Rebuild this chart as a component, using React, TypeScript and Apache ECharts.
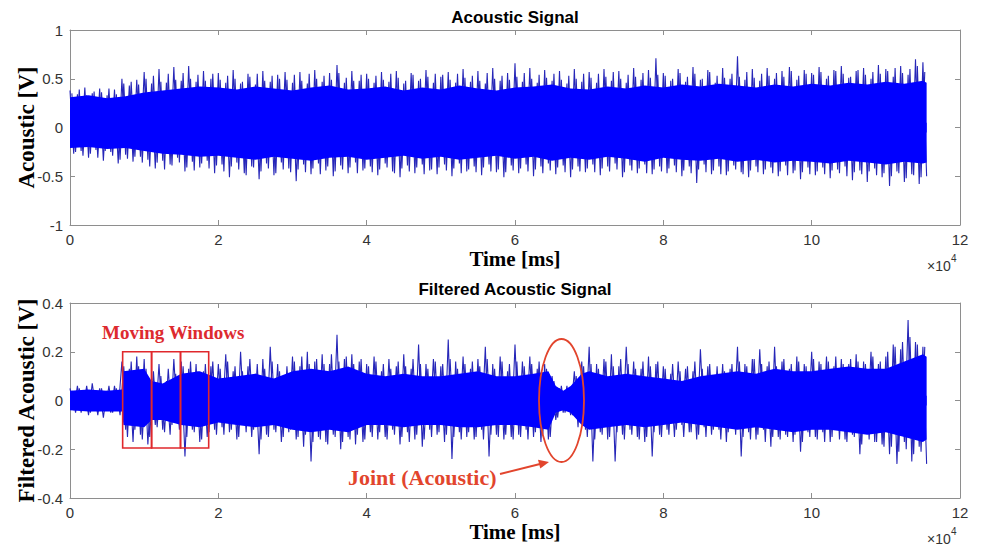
import { useEffect, useRef } from "react";
import * as echarts from "echarts";

const SERIF = '"Liberation Serif", "Times New Roman", serif';
const SANS = '"Liberation Sans", Arial, sans-serif';

// sampling step of the drawn peak traces, in units of 1e4 ms
const SAMPLE_STEP = 0.05;
// the minor peak traces sit half a step later
const MINOR_OFFSET = 0.025;

// Raw acoustic signal: alternating positive / negative peaks, 0 .. 11.55 (x1e4 ms)
const topSignal = [
  0.38,-0.27,0.34,-0.24,0.41,-0.31,0.35,-0.23,0.40,-0.34,0.33,-0.25,0.39,-0.37,0.50,-0.28,0.43,-0.35,0.49,-0.30,
  0.57,-0.33,0.45,-0.42,0.60,-0.34,0.46,-0.38,0.62,-0.31,0.48,-0.45,0.63,-0.35,0.47,-0.41,0.58,-0.34,0.50,-0.47,
  0.56,-0.38,0.46,-0.51,0.59,-0.36,0.45,-0.47,0.55,-0.40,0.44,-0.53,0.58,-0.37,0.47,-0.49,0.54,-0.36,0.57,-0.42,
  0.46,-0.55,0.57,-0.38,0.45,-0.48,0.59,-0.37,0.47,-0.44,0.56,-0.50,0.64,-0.39,0.46,-0.47,0.58,-0.36,0.48,-0.44,
  0.55,-0.40,0.46,-0.49,0.57,-0.37,0.47,-0.45,0.58,-0.51,0.45,-0.39,0.56,-0.47,0.48,-0.38,0.59,-0.44,0.46,-0.48,
  0.52,-0.38,0.57,-0.50,0.46,-0.37,0.60,-0.45,0.47,-0.40,0.58,-0.49,0.45,-0.38,0.61,-0.46,0.48,-0.51,0.56,-0.39,
  0.66,-0.47,0.47,-0.38,0.61,-0.50,0.46,-0.40,0.59,-0.37,0.48,-0.48,0.58,-0.39,0.45,-0.51,0.60,-0.40,0.47,-0.46,
  0.57,-0.38,0.46,-0.49,0.60,-0.40,0.48,-0.37,0.58,-0.51,0.46,-0.39,0.61,-0.47,0.49,-0.38,0.59,-0.48,0.71,-0.40,
  0.56,-0.47,0.48,-0.39,0.60,-0.50,0.47,-0.40,0.62,-0.57,0.49,-0.38,0.59,-0.48,0.46,-0.40,0.61,-0.49,0.50,-0.39,
  0.73,-0.46,0.49,-0.51,0.60,-0.40,0.48,-0.48,0.61,-0.41,0.50,-0.50,0.58,-0.39,0.62,-0.47,0.49,-0.53,0.59,-0.41,
  0.56,-0.49,0.62,-0.41,0.50,-0.52,0.59,-0.43,0.63,-0.40,0.51,-0.54,0.58,-0.44,0.61,-0.56,0.50,-0.42,0.64,-0.51,
  0.60,-0.60,0.52,-0.45,0.63,-0.56,0.54,-0.48,0.70,-0.58,0.67,-0.50,
];

// smaller in-between peaks of the raw signal (0.025 .. 11.525)
const topMinor = [
  0.35,-0.25,0.39,-0.29,0.33,-0.27,0.37,-0.31,0.36,-0.24,0.40,-0.29,0.34,-0.33,0.45,-0.32,0.47,-0.30,0.44,-0.36,
  0.50,-0.40,0.53,-0.36,0.47,-0.43,0.55,-0.39,0.49,-0.36,0.56,-0.41,0.50,-0.44,0.54,-0.37,0.48,-0.42,0.55,-0.39,
  0.49,-0.45,0.53,-0.40,0.50,-0.43,0.47,-0.49,0.52,-0.41,0.55,-0.45,0.48,-0.42,0.53,-0.47,0.50,-0.43,0.49,-0.46,
  0.54,-0.43,0.48,-0.46,0.55,-0.42,0.50,-0.48,0.53,-0.40,0.49,-0.45,0.56,-0.43,0.51,-0.41,0.48,-0.47,0.54,-0.42,
  0.50,-0.46,0.53,-0.43,0.49,-0.41,0.55,-0.47,0.51,-0.42,0.48,-0.45,0.54,-0.41,0.50,-0.48,0.52,-0.43,0.55,-0.41,
  0.54,-0.44,0.49,-0.42,0.55,-0.47,0.51,-0.43,0.53,-0.46,0.48,-0.41,0.56,-0.45,0.50,-0.43,0.53,-0.46,0.49,-0.44,
  0.52,-0.42,0.56,-0.45,0.50,-0.43,0.54,-0.47,0.51,-0.44,0.55,-0.41,0.49,-0.46,0.53,-0.43,0.50,-0.45,0.55,-0.42,
  0.51,-0.46,0.55,-0.42,0.52,-0.45,0.57,-0.43,0.50,-0.46,0.54,-0.44,0.52,-0.42,0.56,-0.47,0.51,-0.43,0.54,-0.45,
  0.53,-0.42,0.50,-0.46,0.56,-0.44,0.52,-0.47,0.55,-0.43,0.50,-0.46,0.57,-0.44,0.53,-0.48,0.51,-0.45,0.55,-0.43,
  0.52,-0.48,0.57,-0.44,0.51,-0.46,0.55,-0.43,0.53,-0.47,0.56,-0.45,0.52,-0.49,0.58,-0.44,0.53,-0.46,0.55,-0.48,
  0.54,-0.45,0.57,-0.48,0.53,-0.44,0.58,-0.47,0.55,-0.50,0.52,-0.46,0.59,-0.48,0.54,-0.45,0.57,-0.49,0.55,-0.47,
  0.58,-0.50,0.61,-0.47,0.56,-0.52,0.60,-0.49,0.63,-0.51,0.57,
];

// dense core band of the raw signal
const topCoreTimes = [
  0,0.25,0.5,0.75,1,1.25,1.5,1.75,2,2.25,2.5,2.75,3,3.25,3.5,3.75,4,4.25,4.5,4.75,5,5.25,5.5,5.75,
  6,6.25,6.5,6.75,7,7.25,7.5,7.75,8,8.25,8.5,8.75,9,9.25,9.5,9.75,10,10.25,10.5,10.75,11,11.25,11.5,11.55,
];
const topCoreHigh = [
  0.31,0.33,0.30,0.32,0.36,0.38,0.40,0.42,0.41,0.39,0.42,0.40,0.38,0.41,0.43,0.39,0.40,0.42,0.38,0.41,0.39,0.43,0.40,0.38,
  0.41,0.42,0.44,0.40,0.39,0.42,0.40,0.43,0.41,0.44,0.42,0.45,0.43,0.41,0.44,0.42,0.45,0.43,0.46,0.44,0.47,0.45,0.48,0.46,
];
const topCoreLow = [
  -0.21,-0.20,-0.22,-0.21,-0.24,-0.27,-0.28,-0.30,-0.29,-0.31,-0.33,-0.30,-0.32,-0.34,-0.31,-0.30,-0.33,-0.31,-0.29,-0.32,-0.30,-0.33,-0.31,-0.29,
  -0.32,-0.30,-0.34,-0.31,-0.33,-0.30,-0.32,-0.35,-0.31,-0.33,-0.34,-0.32,-0.35,-0.33,-0.36,-0.34,-0.35,-0.37,-0.34,-0.36,-0.38,-0.35,-0.37,-0.36,
];

// Filtered acoustic signal peaks
const bottomSignal = [
  0.05,-0.04,0.06,-0.05,0.04,-0.06,0.07,-0.04,0.05,-0.07,0.04,-0.05,0.06,-0.04,0.16,-0.12,0.13,-0.17,0.18,-0.14,
  0.17,-0.18,0.09,-0.10,0.15,-0.12,0.08,-0.14,0.17,-0.09,0.16,-0.23,0.13,-0.12,0.15,-0.17,0.12,-0.15,0.14,-0.12,
  0.15,-0.11,0.19,-0.13,0.12,-0.16,0.20,-0.10,0.14,-0.15,0.11,-0.22,0.17,-0.14,0.22,-0.12,0.15,-0.17,0.10,-0.13,
  0.18,-0.16,0.14,-0.19,0.20,-0.25,0.16,-0.15,0.19,-0.17,0.15,-0.14,0.27,-0.20,0.17,-0.15,0.19,-0.18,0.16,-0.17,
  0.15,-0.13,0.18,-0.16,0.12,-0.15,0.17,-0.12,0.14,-0.18,0.19,-0.13,0.13,-0.16,0.23,-0.19,0.15,-0.12,0.17,-0.14,
  0.14,-0.17,0.25,-0.24,0.16,-0.13,0.18,-0.15,0.13,-0.16,0.17,-0.12,0.22,-0.23,0.15,-0.14,0.18,-0.16,0.12,-0.15,
  0.23,-0.14,0.16,-0.12,0.18,-0.15,0.13,-0.17,0.15,-0.16,0.10,-0.08,0.05,-0.05,0.06,-0.06,0.12,-0.11,0.16,-0.12,
  0.22,-0.25,0.15,-0.13,0.17,-0.16,0.19,-0.25,0.14,-0.14,0.22,-0.12,0.16,-0.15,0.13,-0.17,0.18,-0.23,0.15,-0.14,
  0.14,-0.12,0.11,-0.15,0.16,-0.10,0.13,-0.13,0.12,-0.16,0.21,-0.11,0.14,-0.14,0.10,-0.12,0.15,-0.17,0.13,-0.11,
  0.22,-0.23,0.15,-0.13,0.17,-0.16,0.21,-0.12,0.14,-0.19,0.22,-0.15,0.16,-0.14,0.13,-0.17,0.18,-0.21,0.15,-0.13,
  0.20,-0.15,0.16,-0.13,0.18,-0.17,0.14,-0.12,0.17,-0.16,0.15,-0.14,0.19,-0.22,0.16,-0.13,0.20,-0.17,0.15,-0.18,
  0.18,-0.22,0.23,-0.26,0.21,-0.17,0.33,-0.25,0.24,-0.19,0.22,-0.26,
];

// smaller in-between peaks of the filtered signal (0.025 .. 11.525)
const bottomMinor = [
  0.04,-0.05,0.05,-0.04,0.06,-0.05,0.04,-0.06,0.05,-0.04,0.06,-0.05,0.05,-0.06,0.14,-0.15,0.16,-0.12,0.14,-0.16,
  0.13,-0.15,0.12,-0.11,0.10,-0.13,0.13,-0.10,0.11,-0.12,0.14,-0.15,0.16,-0.13,0.12,-0.16,0.15,-0.13,0.16,-0.14,
  0.13,-0.14,0.16,-0.12,0.14,-0.15,0.12,-0.13,0.17,-0.12,0.15,-0.16,0.13,-0.15,0.16,-0.13,0.12,-0.15,0.14,-0.12,
  0.16,-0.15,0.18,-0.14,0.15,-0.17,0.17,-0.16,0.15,-0.18,0.19,-0.15,0.16,-0.17,0.18,-0.16,0.15,-0.14,0.17,-0.16,
  0.14,-0.15,0.16,-0.13,0.15,-0.16,0.13,-0.14,0.16,-0.15,0.14,-0.17,0.17,-0.14,0.15,-0.16,0.13,-0.15,0.16,-0.13,
  0.15,-0.14,0.17,-0.15,0.13,-0.16,0.15,-0.13,0.16,-0.15,0.14,-0.16,0.17,-0.14,0.13,-0.15,0.16,-0.14,0.15,-0.16,
  0.16,-0.15,0.14,-0.16,0.15,-0.13,0.16,-0.14,0.13,-0.15,0.08,-0.07,0.06,-0.05,0.05,-0.06,0.10,-0.09,0.14,-0.15,
  0.15,-0.16,0.13,-0.14,0.16,-0.15,0.14,-0.13,0.17,-0.16,0.15,-0.14,0.13,-0.16,0.16,-0.15,0.14,-0.13,0.16,-0.15,
  0.13,-0.14,0.15,-0.12,0.12,-0.15,0.14,-0.13,0.16,-0.14,0.13,-0.15,0.15,-0.12,0.14,-0.16,0.12,-0.13,0.15,-0.14,
  0.16,-0.15,0.14,-0.16,0.17,-0.14,0.15,-0.17,0.16,-0.15,0.14,-0.16,0.17,-0.15,0.15,-0.14,0.16,-0.17,0.14,-0.15,
  0.17,-0.16,0.15,-0.17,0.16,-0.15,0.18,-0.16,0.15,-0.17,0.17,-0.15,0.16,-0.18,0.15,-0.16,0.18,-0.17,0.16,-0.19,
  0.20,-0.19,0.22,-0.21,0.24,-0.20,0.26,-0.22,0.23,-0.21,0.22,
];

const bottomCoreTimes = [
  0,0.25,0.5,0.7,0.72,1.0,1.1,1.25,1.5,1.75,2.0,2.25,2.5,2.75,3.0,3.25,3.5,3.75,4.0,4.25,4.5,4.75,5.0,5.25,5.5,5.75,
  6.0,6.25,6.45,6.55,6.65,6.75,6.9,7.0,7.25,7.5,7.75,8.0,8.25,8.5,8.75,9.0,9.25,9.5,9.75,10.0,10.25,10.5,10.75,11.0,11.25,11.5,11.55,
];
const bottomCoreHigh = [
  0.04,0.045,0.04,0.045,0.12,0.13,0.08,0.07,0.11,0.12,0.09,0.10,0.11,0.09,0.12,0.13,0.12,0.14,0.11,0.10,0.11,0.10,0.10,0.11,0.12,0.10,
  0.10,0.11,0.12,0.06,0.04,0.06,0.11,0.12,0.10,0.11,0.10,0.09,0.08,0.10,0.11,0.12,0.11,0.13,0.12,0.12,0.13,0.14,0.13,0.13,0.16,0.19,0.18,
];
const bottomCoreLow = [
  -0.04,-0.045,-0.045,-0.045,-0.10,-0.11,-0.08,-0.08,-0.10,-0.11,-0.09,-0.10,-0.11,-0.10,-0.12,-0.13,-0.12,-0.13,-0.10,-0.10,-0.11,-0.10,-0.10,-0.11,-0.11,-0.10,
  -0.10,-0.11,-0.12,-0.05,-0.04,-0.05,-0.10,-0.12,-0.11,-0.10,-0.11,-0.10,-0.09,-0.10,-0.11,-0.12,-0.11,-0.12,-0.13,-0.12,-0.12,-0.13,-0.14,-0.13,-0.15,-0.17,-0.16,
];

// moving windows (x1e4 ms) and their vertical extent
const windowEdges = [0.71, 1.10, 1.49, 1.87];
const windowTop = 0.2;
const windowBottom = -0.195;

const AXIS_GRAY = "#8e8e8e";
const SPIKE = "#2626b8";
const CORE = "#0000ff";

function xAxisDef(grid: number, pos: string, labels: boolean) {
  return {
    type: "value",
    gridIndex: grid,
    position: pos,
    min: 0,
    max: 12,
    interval: 2,
    name: labels ? "Time [ms]" : "",
    nameLocation: "middle",
    nameGap: 23,
    nameMoveOverlap: false,
    nameTextStyle: { fontFamily: SERIF, fontWeight: "bold", fontSize: 21, color: "#000" },
    axisLine: { show: true, onZero: false, lineStyle: { color: AXIS_GRAY, width: 1 } },
    axisTick: { show: true, inside: true, length: 5, lineStyle: { color: AXIS_GRAY } },
    axisLabel: labels
      ? { show: true, margin: 7, color: "#333", fontSize: 15, fontFamily: SANS }
      : { show: false },
    splitLine: { show: false },
  };
}

function yAxisDef(grid: number, pos: string, labels: boolean, min: number, max: number, interval: number, name: string) {
  return {
    type: "value",
    gridIndex: grid,
    position: pos,
    min,
    max,
    interval,
    name: labels ? name : "",
    nameLocation: "middle",
    nameGap: 32,
    nameMoveOverlap: false,
    nameTextStyle: { fontFamily: SERIF, fontWeight: "bold", fontSize: 23, color: "#000" },
    axisLine: { show: true, onZero: false, lineStyle: { color: AXIS_GRAY, width: 1 } },
    axisTick: { show: true, inside: true, length: 5, lineStyle: { color: AXIS_GRAY } },
    axisLabel: labels
      ? { show: true, margin: 7, color: "#333", fontSize: 15, fontFamily: SANS }
      : { show: false },
    splitLine: { show: false },
  };
}

function trace(values: number[], offset: number) {
  return values.map((v, i) => [i * SAMPLE_STEP + offset, v]);
}

function pairs(times: number[], values: number[]) {
  return times.map((t, i) => [t, values[i]]);
}

export default function App() {
  const ref = useRef<HTMLDivElement>(null);

  useEffect(() => {
    if (!ref.current) return;
    const chart = echarts.init(ref.current, undefined, { renderer: "svg" });

    const windowAreas = windowEdges.slice(0, -1).map((x0, i) => [
      { xAxis: x0, yAxis: windowTop },
      { xAxis: windowEdges[i + 1], yAxis: windowBottom },
    ]);

    const lineBase = { type: "line", symbol: "none", silent: true, animation: false };
    const RED = "#e2452d";

    const peaks = (xi: number, values: number[], offset: number) => ({
      ...lineBase,
      xAxisIndex: xi,
      yAxisIndex: xi,
      z: 2,
      data: trace(values, offset),
      lineStyle: { color: SPIKE, width: 1.1 },
    });

    // core band: upper half filled down past zero, lower half filled up past zero (no seam),
    // drawn above the peak traces
    const band = (xi: number, times: number[], high: number[], low: number[], overlap: number, extra: any = {}) => [
      {
        ...lineBase,
        xAxisIndex: xi,
        yAxisIndex: xi,
        z: 4,
        data: pairs(times, high),
        lineStyle: { width: 0, color: CORE },
        areaStyle: { color: CORE, opacity: 1, origin: -overlap },
      },
      {
        ...lineBase,
        xAxisIndex: xi,
        yAxisIndex: xi,
        z: 4,
        data: pairs(times, low),
        lineStyle: { width: 0, color: CORE },
        areaStyle: { color: CORE, opacity: 1, origin: overlap },
        ...extra,
      },
    ];

    chart.setOption({
      animation: false,
      backgroundColor: "#ffffff",
      grid: [
        { left: 70, top: 30, width: 890, height: 195, outerBoundsMode: "none", containLabel: false },
        { left: 70, top: 303, width: 890, height: 195, outerBoundsMode: "none", containLabel: false },
      ],
      xAxis: [
        xAxisDef(0, "bottom", true),
        xAxisDef(0, "top", false),
        xAxisDef(1, "bottom", true),
        xAxisDef(1, "top", false),
      ],
      yAxis: [
        yAxisDef(0, "left", true, -1, 1, 0.5, "Acoustic [V]"),
        yAxisDef(0, "right", false, -1, 1, 0.5, ""),
        yAxisDef(1, "left", true, -0.4, 0.4, 0.2, "Filtered Acoustic [V]"),
        yAxisDef(1, "right", false, -0.4, 0.4, 0.2, ""),
      ],
      series: [
        peaks(0, topSignal, 0),
        peaks(0, topMinor, MINOR_OFFSET),
        ...band(0, topCoreTimes, topCoreHigh, topCoreLow, 0.05),
        peaks(2, bottomSignal, 0),
        peaks(2, bottomMinor, MINOR_OFFSET),
        ...band(2, bottomCoreTimes, bottomCoreHigh, bottomCoreLow, 0.02, {
          markArea: {
            silent: true,
            z: 10,
            itemStyle: { color: "rgba(0,0,0,0)", borderColor: "#e0282c", borderWidth: 1.6 },
            data: windowAreas,
          },
        }),
      ],
      graphic: [
        {
          type: "text",
          x: 515,
          y: 17,
          style: { text: "Acoustic Signal", fontFamily: SANS, fontWeight: "bold", fontSize: 17, fill: "#000", align: "center", verticalAlign: "middle" },
        },
        {
          type: "text",
          x: 515,
          y: 289,
          style: { text: "Filtered Acoustic Signal", fontFamily: SANS, fontWeight: "bold", fontSize: 17, fill: "#000", align: "center", verticalAlign: "middle" },
        },
        { type: "text", x: 927, y: 259, style: { text: "×10", fontFamily: SANS, fontSize: 14, fill: "#333" } },
        { type: "text", x: 951, y: 253, style: { text: "4", fontFamily: SANS, fontSize: 10, fill: "#333" } },
        { type: "text", x: 927, y: 532, style: { text: "×10", fontFamily: SANS, fontSize: 14, fill: "#333" } },
        { type: "text", x: 951, y: 526, style: { text: "4", fontFamily: SANS, fontSize: 10, fill: "#333" } },
        {
          type: "text",
          x: 102,
          y: 332,
          z: 100,
          style: { text: "Moving Windows", fontFamily: SERIF, fontWeight: "bold", fontSize: 19, fill: "#dd2a2f", align: "left", verticalAlign: "middle" },
        },
        {
          type: "text",
          x: 348,
          y: 477,
          z: 100,
          style: { text: "Joint (Acoustic)", fontFamily: SERIF, fontWeight: "bold", fontSize: 22, fill: RED, align: "left", verticalAlign: "middle" },
        },
        {
          type: "ellipse",
          z: 100,
          shape: { cx: 561.5, cy: 400.5, rx: 22.5, ry: 61.5 },
          style: { fill: "none", stroke: RED, lineWidth: 1.8 },
        },
        {
          type: "line",
          z: 100,
          shape: { x1: 500, y1: 474, x2: 540, y2: 464 },
          style: { stroke: RED, lineWidth: 2 },
        },
        {
          type: "polygon",
          z: 100,
          shape: { points: [[549, 462], [540.3, 468.6], [538.0, 459.8]] },
          style: { fill: RED },
        },
      ],
    });

    return () => chart.dispose();
  }, []);

  return (
    <div
      ref={ref}
      style={{ position: "fixed", left: 0, top: 0, width: 981, height: 546, background: "#fff" }}
    />
  );
}
